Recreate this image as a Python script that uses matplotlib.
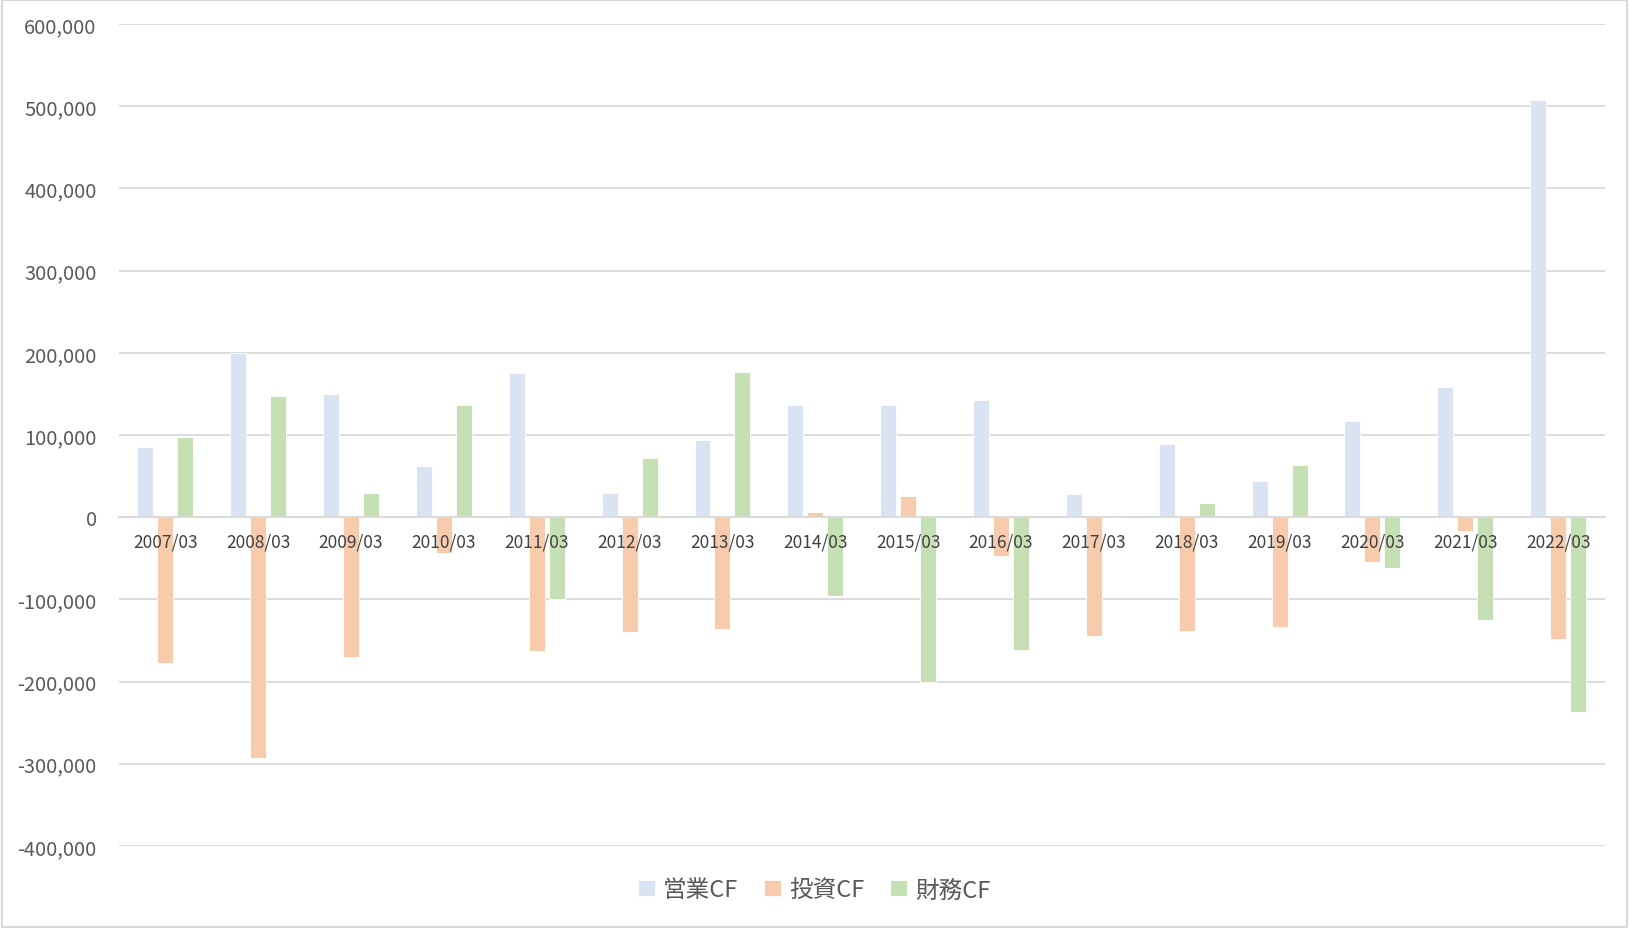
import matplotlib.pyplot as plt
import numpy as np
from matplotlib.patches import Rectangle

plt.rcParams['font.family'] = ['Noto Sans CJK JP', 'DejaVu Sans']

years = ["2007/03", "2008/03", "2009/03", "2010/03", "2011/03", "2012/03", "2013/03", "2014/03",
         "2015/03", "2016/03", "2017/03", "2018/03", "2019/03", "2020/03", "2021/03", "2022/03"]
operating_cf = [86000, 200000, 150000, 62000, 175000, 30000, 94000, 136000,
                136000, 143000, 28000, 89000, 44000, 117000, 159000, 508000]
investing_cf = [-177000, -293000, -170000, -44000, -163000, -140000, -136000, 6000,
                26000, -47000, -145000, -138000, -133000, -55000, -17000, -148000]
financing_cf = [97000, 147000, 29000, 137000, -100000, 72000, 177000, -96000,
                -200000, -161000, 2000, 17000, 63000, -62000, -125000, -237000]

series_names = ["営業CF", "投資CF", "財務CF"]
colors = ["#DAE3F3", "#F8CBAD", "#C5E0B4"]

fig = plt.figure(figsize=(16.29, 9.29), dpi=100)
ax = fig.add_axes([0.073, 0.0883, 0.912, 0.8847])

x = np.arange(len(years))
width = 0.172
step = 0.215
for k, (vals, name, c) in enumerate(zip([operating_cf, investing_cf, financing_cf], series_names, colors)):
    ax.bar(x + (k - 1) * step, vals, width, color=c, label=name, zorder=3,
           edgecolor='white', linewidth=0.6)

ax.set_xlim(-0.5, len(years) - 0.5)
ax.set_ylim(-400000, 600000)
ax.set_yticks(np.arange(-400000, 600001, 100000))
ax.yaxis.set_major_formatter(plt.FuncFormatter(lambda v, p: f"{int(v):,}"))
ax.tick_params(axis='y', length=0, labelsize=14.5, labelcolor='#595959', pad=16)
ax.grid(axis='y', color='#D9D9D9', linewidth=1.3, zorder=0)

# category labels sit just under the zero line, drawn over the bars
ax.set_xticks(x)
ax.set_xticklabels([])
ax.tick_params(axis='x', length=0)
for xi, lab in zip(x, years):
    ax.annotate(lab, (xi, 0), xytext=(0, -11), textcoords='offset points',
                ha='center', va='top', fontsize=12.5, color='#404040', zorder=6)

for s in ['top', 'right', 'left']:
    ax.spines[s].set_visible(False)
ax.spines['bottom'].set_position(('data', 0))
ax.spines['bottom'].set_color('#D9D9D9')
ax.spines['bottom'].set_linewidth(1.3)
ax.spines['bottom'].set_zorder(4)

fig.legend(loc='center', bbox_to_anchor=(0.5, 0.041), ncol=3, frameon=False,
           fontsize=17, handlelength=0.7, handleheight=0.7, handletextpad=0.35,
           columnspacing=1.1, labelcolor='#595959')

fig.patches.append(Rectangle((0.001, 0.001), 0.998, 0.998, transform=fig.transFigure,
                             fill=False, edgecolor='#D9D9D9', linewidth=1.5))

fig.savefig("out.png", dpi=100, facecolor='white')
